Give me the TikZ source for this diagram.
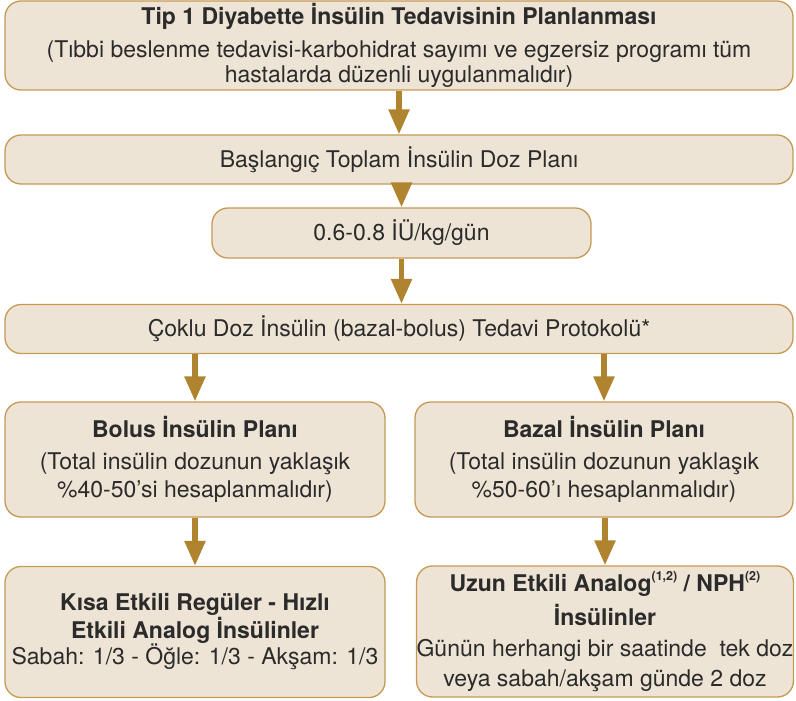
\documentclass[tikz,border=0pt]{standalone}
\usepackage{fontspec}
\setmainfont{TeX Gyre Heros}
\usetikzlibrary{arrows.meta}
\definecolor{boxfill}{HTML}{EEE4D5}
\definecolor{boxline}{HTML}{C49A55}
\definecolor{flowc}{HTML}{B0832F}
\definecolor{txt}{HTML}{2B2B2B}
\newcommand{\supnote}[1]{\raisebox{0.9ex}{\fontsize{12.5}{12.5}\selectfont\bfseries #1}}
\begin{document}
\begin{tikzpicture}[x=1pt,y=-1pt,
  card/.style 2 args={draw=boxline, fill=boxfill, line width=1.3pt,
    rounded corners=16pt, inner sep=0pt, align=center, text=txt,
    minimum width=#1pt, minimum height=#2pt,
    font=\fontsize{23}{25}\selectfont},
  flow/.style={draw=flowc, line width=5.5pt,
    -{Triangle[width=20pt,length=25pt]}}]
\path[use as bounding box] (0,0) rectangle (796,701);

% main column
\node[card={788}{89}] (plan) at (399,45.5)
  {\textbf{Tip 1 Diyabette İnsülin Tedavisinin Planlanması}\\[8pt]
   (Tıbbi beslenme tedavisi-karbohidrat sayımı ve egzersiz programı tüm\\
   hastalarda düzenli uygulanmalıdır)};
\node[card={788}{49}] (start) at (399,159.5) {Başlangıç Toplam İnsülin Doz Planı};
\node[card={379}{50}] (dose) at (401.5,233) {0.6-0.8 İÜ/kg/gün};
\node[card={788}{49}] (mdi) at (399,329) {Çoklu Doz İnsülin (bazal-bolus) Tedavi Protokolü*};

% bolus / basal columns
\node[card={380}{115}] (bolus) at (195,459.5)
  {\textbf{Bolus İnsülin Planı}\\[7pt]
   (Total insülin dozunun yaklaşık\\[3pt]
   \%40-50’si hesaplanmalıdır)};
\node[card={378}{115}] (basal) at (604,459.5)
  {\textbf{Bazal İnsülin Planı}\\[7pt]
   (Total insülin dozunun yaklaşık\\[3pt]
   \%50-60’ı hesaplanmalıdır)};
\node[card={380}{131}] (short) at (195,632)
  {\textbf{Kısa Etkili Regüler - Hızlı}\\
   \textbf{Etkili Analog İnsülinler}\\
   Sabah: 1/3 - Öğle: 1/3 - Akşam: 1/3};
\node[card={376}{131}] (long) at (605,631.5)
  {\textbf{Uzun Etkili Analog\supnote{(1,2)} / NPH\supnote{(2)}}\\[6pt]
   \textbf{İnsülinler}\\[6pt]
   Günün herhangi bir saatinde\ \ tek doz\\[5pt]
   veya sabah/akşam günde 2 doz};

% connectors
\draw[flow] (plan.south) -- (start.north);
\draw[flow] (start.south -| dose.north) -- (dose.north);
\draw[flow] (dose.south) -- (dose.south |- mdi.north);
\draw[flow] (bolus.north |- mdi.south) -- (bolus.north);
\draw[flow] (basal.north |- mdi.south) -- (basal.north);
\draw[flow] (bolus.south) -- (short.north);
\draw[flow] (long.north |- basal.south) -- (long.north);
\end{tikzpicture}
\end{document}
